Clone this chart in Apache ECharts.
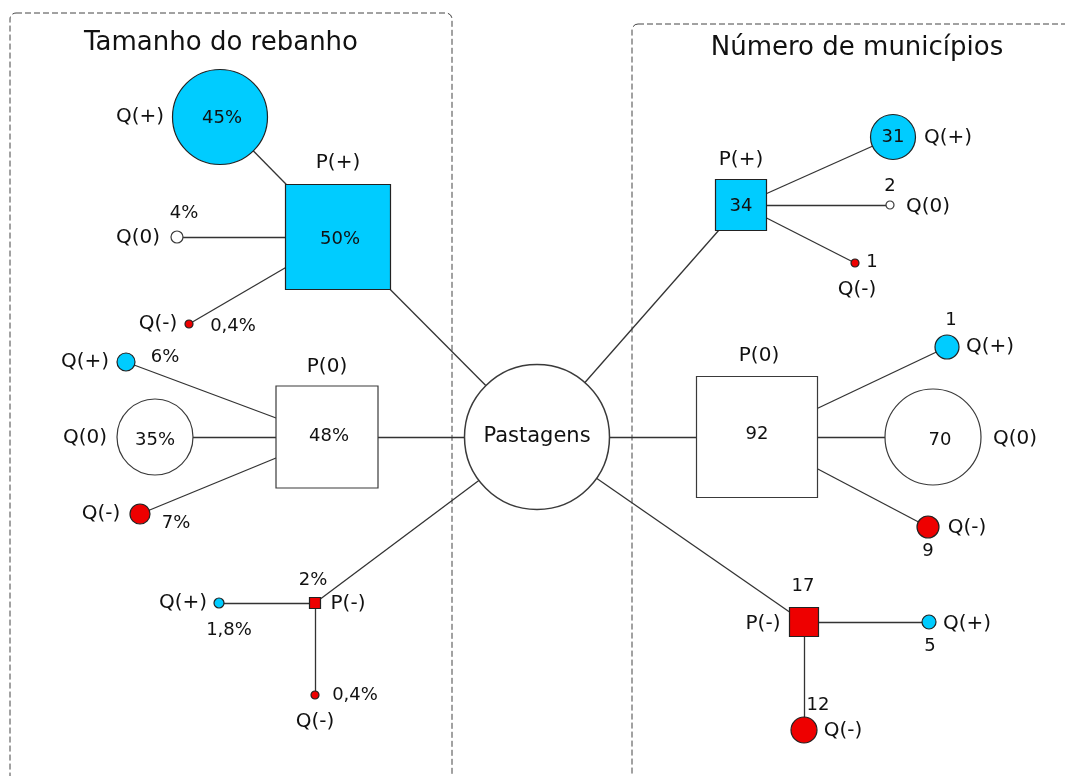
<!DOCTYPE html>
<html>
<head>
<meta charset="utf-8">
<script src="https://cdn.jsdelivr.net/npm/echarts@6/dist/echarts.min.js"></script>
<style>
html,body{margin:0;padding:0;background:#fff;}
#c{width:1065px;height:776px;}
</style>
</head>
<body>
<div id="c"></div>
<script>
// ---------- DATA ----------
const panelTitles = ['Tamanho do rebanho', 'Número de municípios'];
const nodeNames = ['Pastagens',
  'P(+)', 'Q(+)', 'Q(0)', 'Q(-)',
  'P(0)', 'Q(+)', 'Q(0)', 'Q(-)',
  'P(-)', 'Q(+)', 'Q(-)',
  'P(+)', 'Q(+)', 'Q(0)', 'Q(-)',
  'P(0)', 'Q(+)', 'Q(0)', 'Q(-)',
  'P(-)', 'Q(+)', 'Q(-)'];
const nodeValues = ['',
  '50%', '45%', '4%', '0,4%',
  '48%', '6%', '35%', '7%',
  '2%', '1,8%', '0,4%',
  '34', '31', '2', '1',
  '92', '1', '70', '9',
  '17', '5', '12'];
const nodeParent = [-1,
  0, 1, 1, 1,
  0, 5, 5, 5,
  0, 9, 9,
  0, 12, 12, 12,
  0, 16, 16, 16,
  0, 20, 20];

// ---------- LAYOUT (diagram placement, not data) ----------
const nodePos = [[537,437],
  [338,237],[220,117],[177,237],[189,324],
  [327,437],[126,362],[155,437],[140,514],
  [315,603],[219,603],[315,695],
  [741,205],[893,137],[890,205],[855,263],
  [757,437],[947,347],[933,437],[928,527],
  [804,622],[929,622],[804,730]];
const nodeSize = [145,
  105, 95, 12, 8,
  102, 18, 76, 20,
  11, 10, 8,
  51, 45, 8, 8,
  121, 24, 96, 22,
  29, 14, 26];
const valuePos = [null,
  [340,239],[222,118],[184,213],[233,326],
  [329,436],[165,357],[155,440],[176,523],
  [313,580],[229,630],[355,695],
  [741,206],[893,137],[890,186],[872,262],
  [757,434],[951,320],[940,440],[928,551],
  [803,586],[930,646],[818,705]];
const namePos = [[537,437],
  [338,163],[140,117],[138,238],[158,324],
  [327,367],[85,362],[85,438],[101,514],
  [348,604],[183,603],[315,722],
  [741,160],[948,138],[928,207],[857,290],
  [759,356],[990,347],[1015,439],[967,528],
  [763,624],[967,624],[843,731]];
const titlePos = [[221,43],[857,48]];

// ---------- STYLE ----------
const FONT = 'DejaVu Sans';
const TXT = '#111111';
function fillFor(i){
  const name = nodeNames[i];
  if (i === 0) return '#ffffff';
  if (name.indexOf('+') >= 0) return '#00CCFF';
  if (name.indexOf('-') >= 0) return '#EE0000';
  return '#ffffff';
}

const graphNodes = nodeNames.map((n, i) => ({
  name: 'n' + i,
  value: nodePos[i],
  symbol: (i > 0 && n.charAt(0) === 'P') ? 'rect' : 'circle',
  symbolSize: nodeSize[i],
  itemStyle: {
    color: fillFor(i),
    borderColor: fillFor(i) === '#ffffff' ? '#3a3a3a' : '#222',
    borderWidth: i === 0 ? 1.5 : 1.2
  }
}));
const graphLinks = [];
nodeParent.forEach((p, i) => { if (p >= 0) graphLinks.push({source: i, target: p}); });

const labelData = [];
nodeNames.forEach((n, i) => {
  labelData.push({value: namePos[i], label: {formatter: n, fontSize: i === 0 ? 21 : 20, color: TXT}});
  if (nodeValues[i] !== '') labelData.push({value: valuePos[i], label: {formatter: nodeValues[i], fontSize: 18, color: TXT}});
});

const chart = echarts.init(document.getElementById('c'), null, {renderer: 'canvas'});
chart.setOption({
  animation: false,
  backgroundColor: '#ffffff',
  grid: {left: 0, right: 0, top: 0, bottom: 0},
  xAxis: {type: 'value', min: 0, max: 1065, show: false},
  yAxis: {type: 'value', min: 0, max: 776, inverse: true, show: false},
  graphic: [
    {type: 'rect', z: 0, shape: {x: 10, y: 13, width: 442, height: 830, r: 6},
     style: {fill: 'none', stroke: '#444', lineWidth: 1, lineDash: [6, 3]}},
    {type: 'rect', z: 0, shape: {x: 632, y: 24, width: 480, height: 820, r: 6},
     style: {fill: 'none', stroke: '#444', lineWidth: 1, lineDash: [6, 3]}},
    {type: 'text', z: 10, x: titlePos[0][0], y: titlePos[0][1],
     style: {text: panelTitles[0], fontFamily: FONT, fontSize: 26, fill: TXT, align: 'center', verticalAlign: 'middle'}},
    {type: 'text', z: 10, x: titlePos[1][0], y: titlePos[1][1],
     style: {text: panelTitles[1], fontFamily: FONT, fontSize: 26, fill: TXT, align: 'center', verticalAlign: 'middle'}}
  ],
  series: [
    {
      type: 'graph',
      coordinateSystem: 'cartesian2d',
      layout: 'none',
      z: 2,
      data: graphNodes,
      links: graphLinks,
      label: {show: false},
      lineStyle: {color: '#333', width: 1.3, opacity: 1, curveness: 0},
      emphasis: {disabled: true}
    },
    {
      type: 'scatter',
      z: 5,
      symbolSize: 1,
      itemStyle: {color: 'rgba(0,0,0,0)', opacity: 1},
      label: {show: true, position: 'inside', color: TXT, fontFamily: FONT},
      data: labelData,
      emphasis: {disabled: true}
    }
  ]
});
</script>
</body>
</html>
